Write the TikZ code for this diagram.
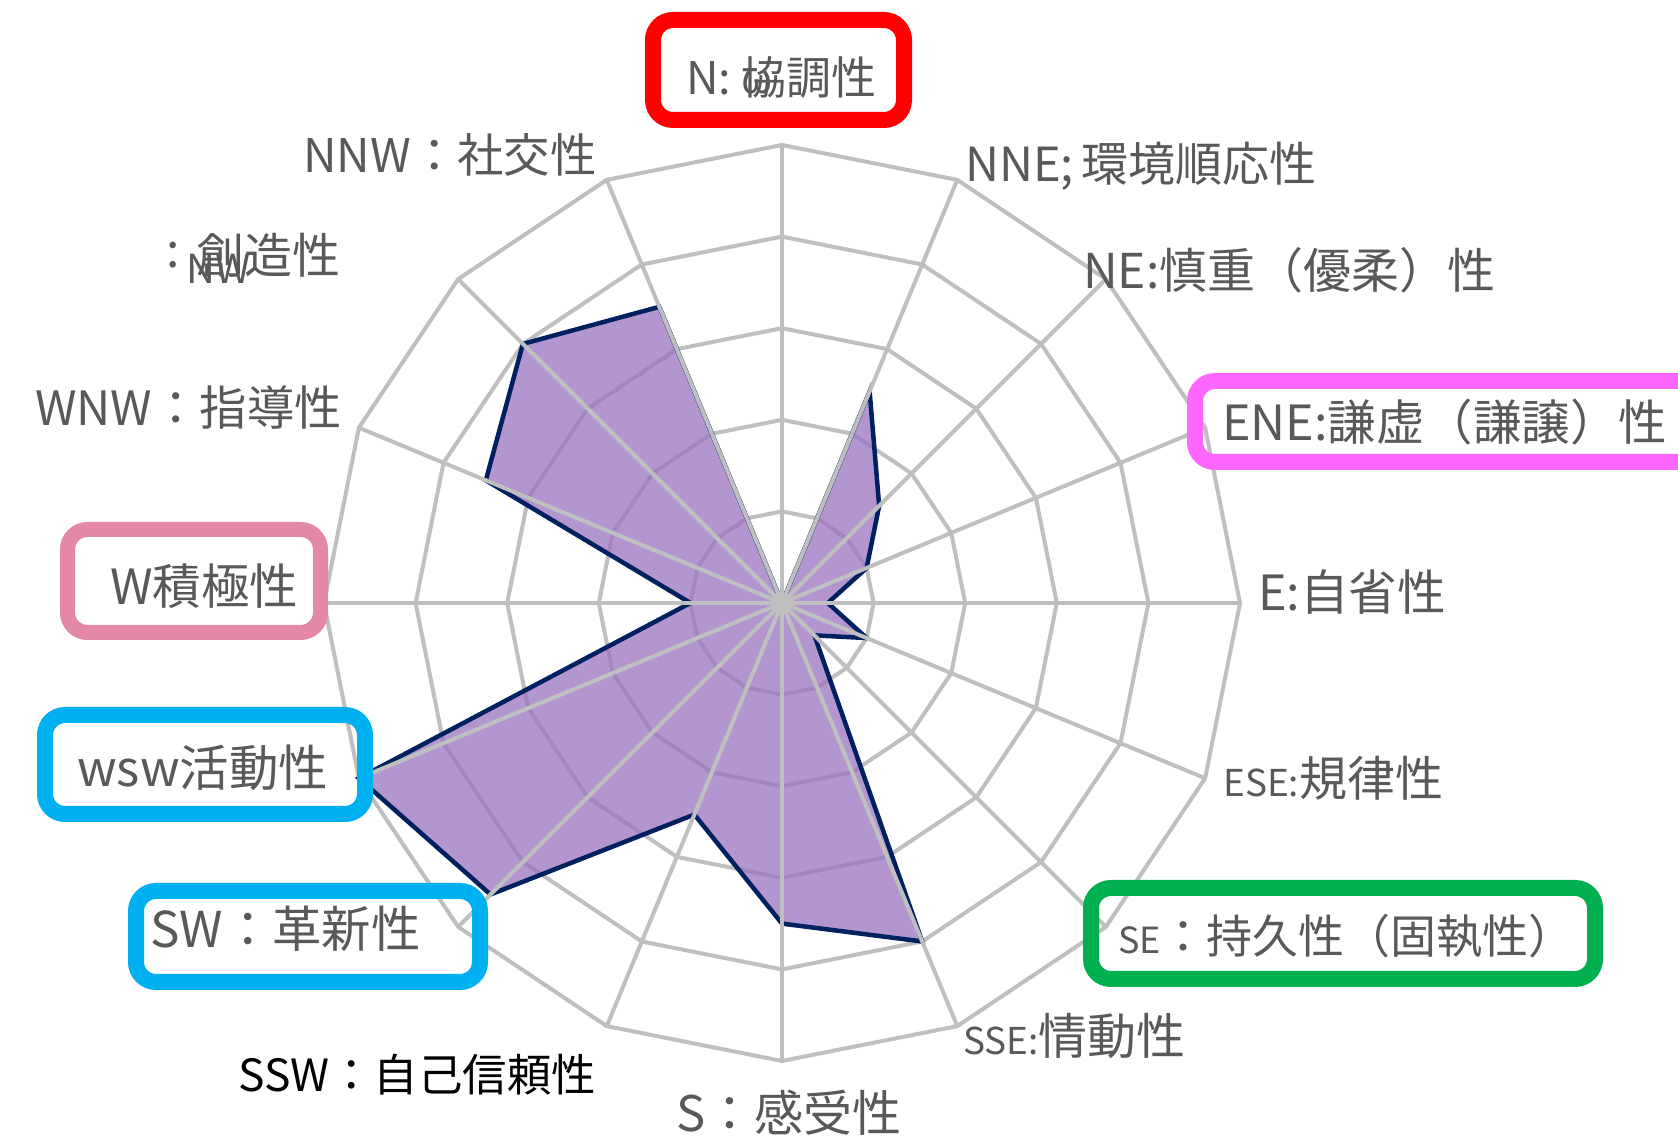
\documentclass[tikz,border=0pt]{standalone}
\usepackage{fontspec}
\setmainfont{Noto Sans CJK JP}
\definecolor{txtgray}{HTML}{595959}
\definecolor{gridgray}{HTML}{BFBFBF}
\definecolor{polyfill}{RGB}{154,116,191}
\definecolor{polyline}{HTML}{002060}
\definecolor{boxred}{HTML}{FF0000}
\definecolor{boxpink}{HTML}{E388A6}
\definecolor{boxcyan}{HTML}{00B0F0}
\definecolor{boxgreen}{HTML}{00B050}
\definecolor{boxmag}{HTML}{FF66FF}
\newcommand{\fsz}[1]{\fontsize{#1}{#1}\selectfont}
\begin{document}
\begin{tikzpicture}[x=1pt,y=1pt,
  lab/.style={anchor=west,inner sep=0pt,text=txtgray,font=\fsz{48}},
  ringline/.style={draw=gridgray,line width=4pt,line join=round},
  spoke/.style={draw=gridgray,line width=4pt},
  hibox/.style={line width=16pt,rounded corners=20pt}]
\useasboundingbox (0,0) rectangle (1678,1135);
\fill[white] (0,0) rectangle (1678,1135);
\begin{scope}[shift={(782,532)}]
  % rings
  \foreach \i in {1,...,5}{
    \pgfmathsetmacro{\r}{\i*91.6}
    \draw[ringline] (90:\r) \foreach \k in {1,...,15}{ -- ({90-22.5*\k}:\r)} -- cycle;
  }
  % data polygon
  \fill[polyfill,fill opacity=0.75] (90:0) -- (67.5:229) -- (45:137.4) -- (22.5:91.6) -- (0:45.8) -- (-22.5:91.6) -- (-45:45.8) -- (-67.5:366.4) -- (-90:320.6) -- (-112.5:229) -- (-135:412.2) -- (-157.5:458) -- (180:91.6) -- (157.5:320.6) -- (135:366.4) -- (112.5:320.6) -- cycle;
  \draw[polyline,line width=4.5pt,line join=miter] (90:0) -- (67.5:229) -- (45:137.4) -- (22.5:91.6) -- (0:45.8) -- (-22.5:91.6) -- (-45:45.8) -- (-67.5:366.4) -- (-90:320.6) -- (-112.5:229) -- (-135:412.2) -- (-157.5:458) -- (180:91.6) -- (157.5:320.6) -- (135:366.4) -- (112.5:320.6) -- cycle;
  % spokes
  \foreach \k in {0,...,15}{
    \draw[spoke] (0,0) -- ({90-22.5*\k}:458);
  }
\end{scope}
% highlight boxes
\draw[hibox,draw=boxred] (653,1015) rectangle (904,1115);
\draw[hibox,draw=boxpink,line width=15pt] (67.5,502.5) rectangle (320.5,605.5);
\draw[hibox,draw=boxcyan] (45,321) rectangle (365,420);
\draw[hibox,draw=boxcyan] (136,153) rectangle (480,244);
\draw[hibox,draw=boxgreen] (1091,156) rectangle (1595,247);
\draw[hibox,draw=boxmag] (1195,673) rectangle (1710,754);
% labels
\node[lab,font=\fsz{45}] (lN) at (686,1057) {N: 協調性};
\node[lab,font=\fsz{40},anchor=center] (lNov) at (757,1052) {ω};
\node[lab,font=\fsz{47}] (lNNE) at (965,969) {NNE;\,環境順応性};
\node[lab] (lNE) at (1083,865) {NE:慎重（優柔）性};
\node[lab,font=\fsz{48.5}] (lENE) at (1222,713) {ENE:謙虚（謙譲）性};
\node[lab,font=\fsz{48.5}] (lE) at (1258,543) {E:自省性};
\node[lab] (lESE) at (1223,357) {{\fsz{37}ESE:}規律性};
\node[lab,font=\fsz{46}] (lSE) at (1118,199) {{\fsz{36}SE}：持久性（固執性）};
\node[lab,font=\fsz{49}] (lSSE) at (963,99) {{\fsz{37}SSE:}情動性};
\node[lab,font=\fsz{49}] (lS) at (676,22) {S：感受性};
\node[lab,text=black,font=\fsz{44.4}] (lSSW) at (238,60) {SSW：自己信頼性};
\node[lab,font=\fsz{49.4}] (lSW) at (150,206) {SW：革新性};
\node[lab,font=\fsz{49.5}] (lWSW) at (77,367) {wsw活動性};
\node[lab,font=\fsz{48.5}] (lW) at (110,549) {W積極性};
\node[lab,font=\fsz{47.3}] (lWNW) at (35,728) {WNW：指導性};
\node[lab,font=\fsz{48}] (lNWc) at (166,880) {:};
\node[lab,font=\fsz{48}] (lNW) at (196,880) {創造性};
\node[lab,font=\fsz{40}] (lNWov) at (186,866) {NW};
\node[lab,font=\fsz{46.4}] (lNNW) at (303,980) {NNW：社交性};
\end{tikzpicture}
\end{document}
